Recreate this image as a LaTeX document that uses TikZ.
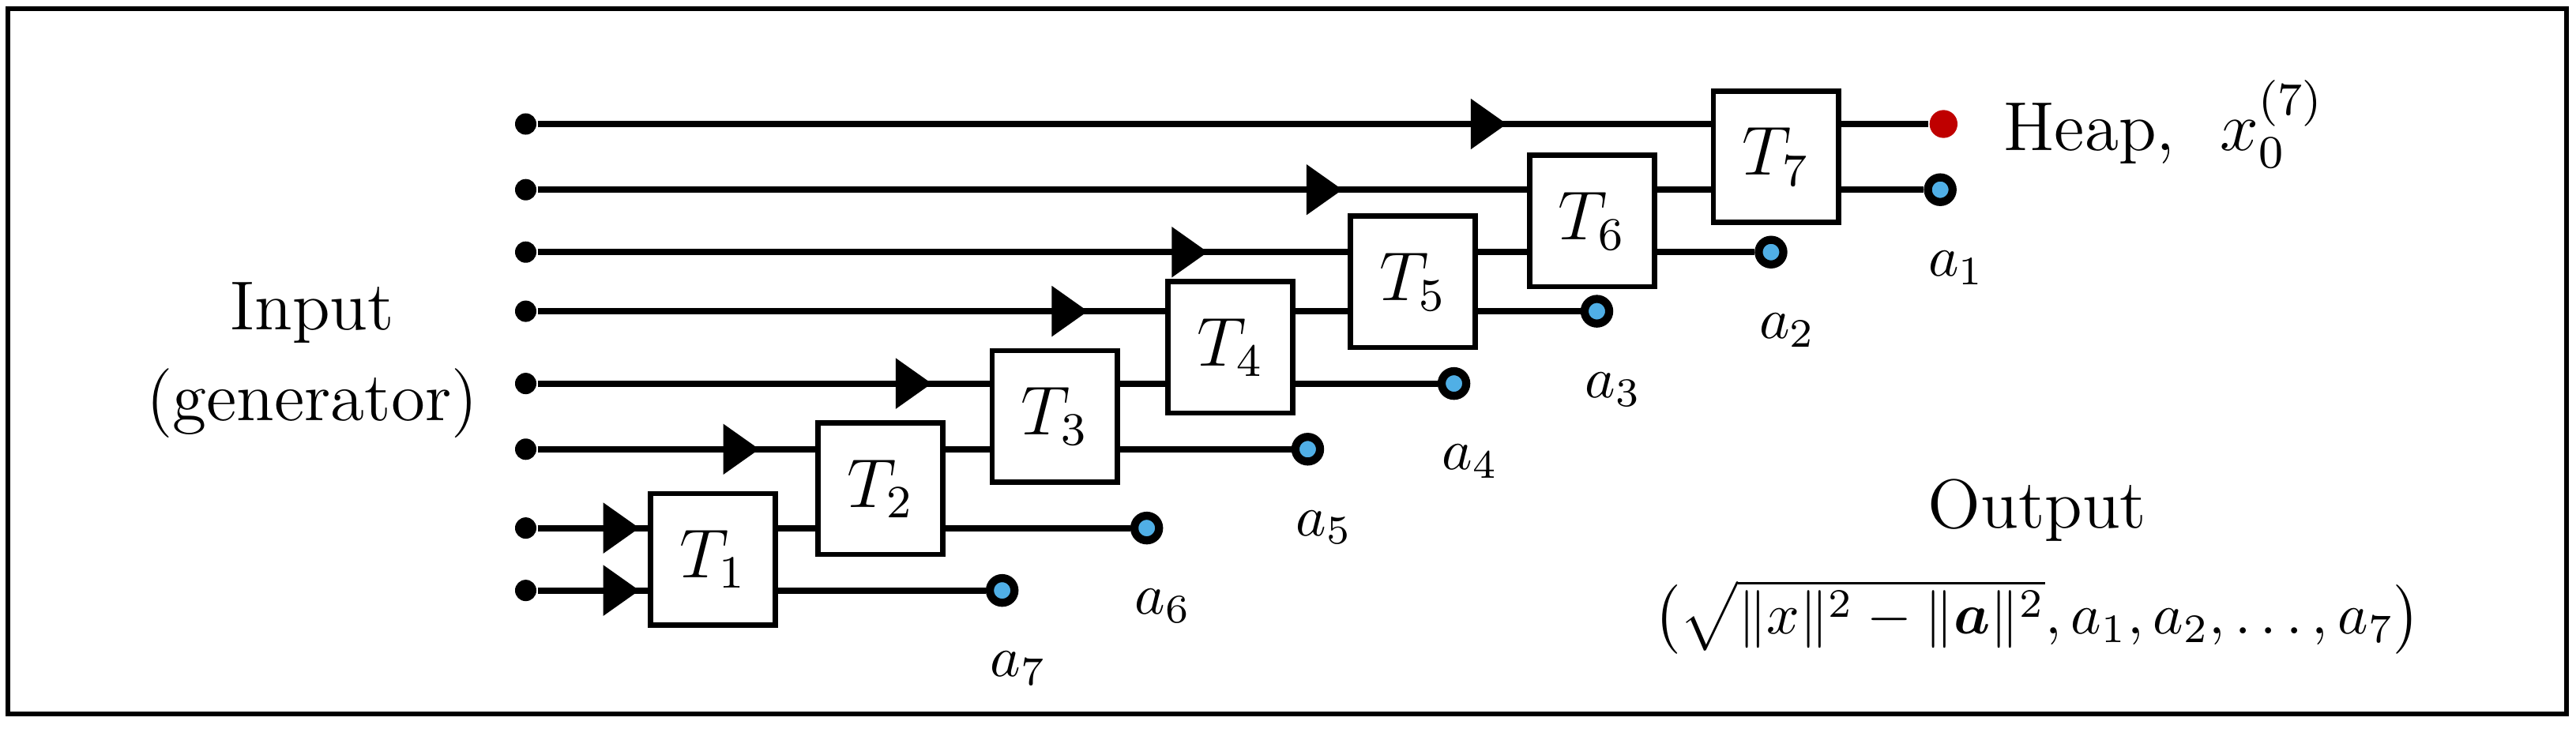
\documentclass[tikz,border=0pt]{standalone}
\usepackage{amsmath}
\usepackage{amssymb}
\usetikzlibrary{calc,positioning,arrows.meta,decorations.markings}

\begin{document}
\begin{tikzpicture}[
        box/.style={rectangle,draw,line width=0.9pt,minimum width=0.76cm,minimum height=0.8cm,inner sep=0pt,font=\large},
        src/.style={circle,fill=black,inner sep=0pt,minimum size=0.13cm},
        tap/.style={circle,draw=black,line width=1.4pt,fill=cyan!80!blue!70,inner sep=0pt,minimum size=0.15cm},
        heap/.style={circle,fill=red!75!black,inner sep=0pt,minimum size=0.17cm},
        wire/.style={line width=1.1pt},
        arr/.style={decoration={markings,
            mark=at position #1 with {\arrow{Triangle[length=0.22cm,width=0.3cm]}}
        },postaction={decorate}},
        lab/.style={label={[xshift=1mm,label distance=1.5mm]below:#1}}
    ]
    \useasboundingbox (0,0) rectangle (15.68,4.505);
    \draw[line width=0.8pt] (0.05,0.16) rectangle (15.62,4.45);

    % inputs
    \foreach \n/\y in {0/3.75,1/3.35,2/2.97,3/2.61,4/2.17,5/1.77,6/1.29,7/0.91}
        \node[src] (s\n) at (3.20,\y) {};

    % blocks
    \node[box] (T1) at (4.34,1.10) {$T_1$};
    \node[box] (T2) at (5.36,1.53) {$T_2$};
    \node[box] (T3) at (6.42,1.97) {$T_3$};
    \node[box] (T4) at (7.49,2.39) {$T_4$};
    \node[box] (T5) at (8.60,2.79) {$T_5$};
    \node[box] (T6) at (9.69,3.16) {$T_6$};
    \node[box] (T7) at (10.81,3.55) {$T_7$};

    % outputs
    \node[tap,lab=$a_7$] (a7) at (6.10,0.91) {};
    \node[tap,lab=$a_6$] (a6) at (6.98,1.29) {};
    \node[tap,lab=$a_5$] (a5) at (7.96,1.77) {};
    \node[tap,lab=$a_4$] (a4) at (8.85,2.17) {};
    \node[tap,lab=$a_3$] (a3) at (9.72,2.61) {};
    \node[tap,lab=$a_2$] (a2) at (10.78,2.97) {};
    \node[tap,lab=$a_1$] (a1) at (11.81,3.35) {};
    \node[heap,label={[label distance=1.5mm,font=\large]right:Heap,\ \ $x_0^{(7)}$}] (h) at (11.83,3.75) {};

    % input wires
    \draw[wire,arr=0.62cm] (s7) -- (s7 -| T1.west);
    \draw[wire,arr=0.62cm] (s6) -- (s6 -| T1.west);
    \draw[wire,arr=1.35cm] (s5) -- (s5 -| T2.west);
    \draw[wire,arr=2.40cm] (s4) -- (s4 -| T3.west);
    \draw[wire,arr=3.35cm] (s3) -- (s3 -| T4.west);
    \draw[wire,arr=4.08cm] (s2) -- (s2 -| T5.west);
    \draw[wire,arr=4.90cm] (s1) -- (s1 -| T6.west);
    \draw[wire,arr=5.90cm] (s0) -- (s0 -| T7.west);

    % links between blocks
    \draw[wire] (s6 -| T1.east) -- (s6 -| T2.west);
    \draw[wire] (s5 -| T2.east) -- (s5 -| T3.west);
    \draw[wire] (s4 -| T3.east) -- (s4 -| T4.west);
    \draw[wire] (s3 -| T4.east) -- (s3 -| T5.west);
    \draw[wire] (s2 -| T5.east) -- (s2 -| T6.west);
    \draw[wire] (s1 -| T6.east) -- (s1 -| T7.west);
    \draw[wire] (s0 -| T7.east) -- (h);

    % taps
    \draw[wire] (a7 -| T1.east) -- (a7);
    \draw[wire] (a6 -| T2.east) -- (a6);
    \draw[wire] (a5 -| T3.east) -- (a5);
    \draw[wire] (a4 -| T4.east) -- (a4);
    \draw[wire] (a3 -| T5.east) -- (a3);
    \draw[wire] (a2 -| T6.east) -- (a2);
    \draw[wire] (a1 -| T7.east) -- (a1);

    \node[font=\large] (inp) at (1.90,2.60) {Input};
    \node[font=\large] (gen) at (1.90,2.05) {(generator)};
    \node[font=\large] (outp) at (12.40,1.40) {Output};
    \node (res) at (12.40,0.75) {$\bigl(\sqrt{\|x\|^2-\|\boldsymbol{a}\|^2},a_1,a_2,\ldots,a_7\bigr)$};
\end{tikzpicture}
\end{document}
